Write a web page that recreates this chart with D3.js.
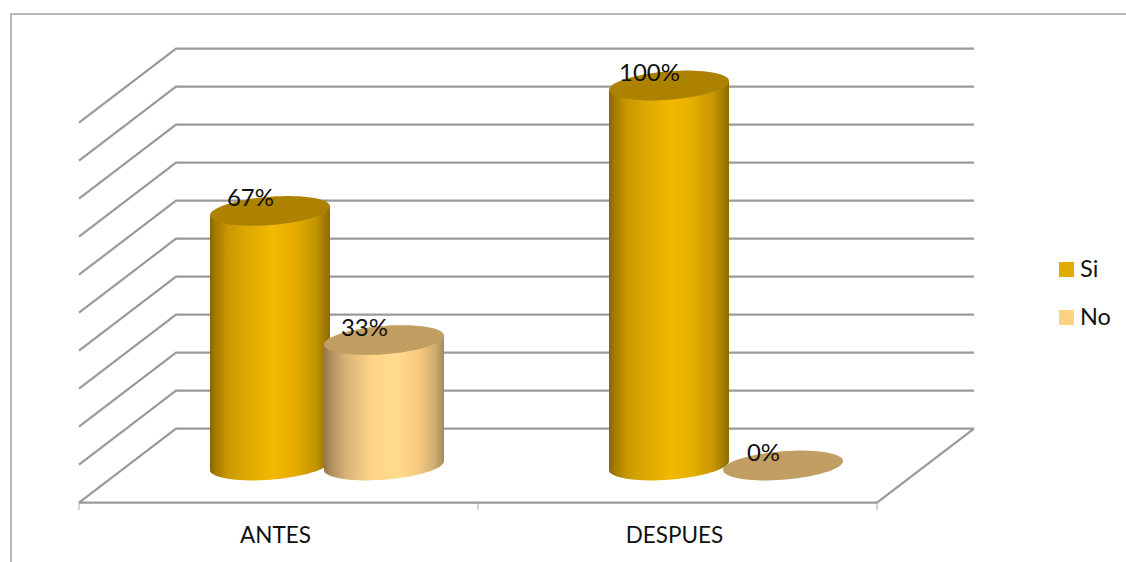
<!DOCTYPE html>
<html><head><meta charset="utf-8">
<script src="https://cdn.jsdelivr.net/npm/d3@7"></script>
<style>html,body{margin:0;padding:0;background:#fff}svg{display:block}text{font-family:Lato,"Open Sans",sans-serif;fill:#111}</style>
</head><body><svg id="c" width="1126" height="562"></svg>
<script>
const categories = ["ANTES", "DESPUES"];
const seriesNames = ["Si", "No"];
const siValues = [0.67, 1.00];
const noValues = [0.33, 0.00];
const valueLabels = { Si: ["67%", "100%"], No: ["33%", "0%"] };
const gridTicks = [0, 0.1, 0.2, 0.3, 0.4, 0.5, 0.6, 0.7, 0.8, 0.9, 1];

const svg = d3.select("#c");
const W = 1126, H = 562;
const gray = "#9a9a9a";
const depthX = 97, depthY = -74;
const x0 = d3.scaleBand().domain(categories).range([79, 877]);
const x1 = d3.scaleBand().domain(seriesNames).range([134, 362]);
const yBack = d3.scaleLinear().domain([0, 1]).range([428.7, 48.7]);
const yFront = d3.scaleLinear().domain([0, 1]).range([502.7, 122.7]);
const yBar = d3.scaleLinear().domain([0, 1]).range([465.5, 85.5]);
const color = d3.scaleOrdinal().domain(seriesNames).range(["#e3aa00", "#ffd183"]);
const topColor = d3.scaleOrdinal().domain(seriesNames).range(["#ad8200", "#c19e62"]);
const gradStops = {
  Si: [[0,"#8a6500"],[.04,"#a27800"],[.15,"#c99900"],[.35,"#e2ad00"],[.52,"#f3b800"],[.7,"#e6ae00"],[.88,"#c29400"],[1,"#8f6b00"]],
  No: [[0,"#937649"],[.05,"#ab8c5a"],[.18,"#d8b276"],[.4,"#ffd488"],[.62,"#ffdb8e"],[.8,"#f5c87e"],[.92,"#cfae72"],[1,"#a58a5a"]]
};

// frame
svg.append("path").attr("d", `M11,${H}V14H${W}`).attr("fill","none").attr("stroke","#a3a3a3").attr("stroke-width",1.5);

// defs
const defs = svg.append("defs");
seriesNames.forEach(s => {
  const g = defs.append("linearGradient").attr("id","g"+s).attr("x1","0").attr("x2","1").attr("y1","0").attr("y2","0");
  gradStops[s].forEach(([o,c]) => g.append("stop").attr("offset",o).attr("stop-color",c));
});

// grid walls
const wall = svg.append("g").attr("fill","none").attr("stroke",gray).attr("stroke-width",2.2);
wall.selectAll("path.g").data(gridTicks).join("path").attr("class","g")
  .attr("d", d => {
    const l = d3.line();
    return l([[x0.range()[0], yFront(d)], [x0.range()[0]+depthX, yBack(d)], [x0.range()[1]+depthX, yBack(d)]]);
  });
// floor front + right
wall.append("path").attr("d", d3.line()([[x0.range()[0], yFront(0)],[x0.range()[1], yFront(0)],[x0.range()[1]+depthX, yBack(0)]]));
// ticks
svg.append("g").attr("stroke","#a8a8a8").attr("stroke-width",1)
  .selectAll("line").data([x0.range()[0], x0.range()[0]+x0.bandwidth(), x0.range()[1]]).join("line")
  .attr("x1",d=>d).attr("x2",d=>d).attr("y1",503).attr("y2",510);

// cylinders
const rx = 60, ry = 14.2, shear = 4.5;
const pt = (cx, cy, t) => [cx + rx*Math.cos(t), cy + ry*Math.sin(t) - shear*Math.cos(t)];
const line = d3.line();
function ellipsePath(cx, cy){ return line(d3.range(0,73).map(i=>pt(cx,cy,i/72*2*Math.PI)))+"Z"; }
function bodyPath(cx, yTop, yBot){
  const low = d3.range(0,37).map(i=>pt(cx,yBot,i/36*Math.PI));
  return line([pt(cx,yTop,0), ...low, pt(cx,yTop,Math.PI)])+"Z";
}
const rows = [];
categories.forEach((c,i)=>{
  rows.push({c, s:"Si", v:siValues[i], label:valueLabels.Si[i]});
  rows.push({c, s:"No", v:noValues[i], label:valueLabels.No[i]});
});
const bars = svg.append("g");
rows.forEach(d=>{
  const cx = x0(d.c)+x1(d.s)+x1.bandwidth()/2;
  if(d.v>0) bars.append("path").attr("d",bodyPath(cx,yBar(d.v),yBar(0))).attr("fill",`url(#g${d.s})`);
  bars.append("path").attr("d",ellipsePath(cx,yBar(d.v))).attr("fill",topColor(d.s));
});
// data labels
svg.append("g").selectAll("text").data(rows).join("text")
  .attr("x",d=>x0(d.c)+x1(d.s)+x1.bandwidth()/2-19.5)
  .attr("y",d=>yBar(d.v)-4.5)
  .attr("text-anchor","middle").attr("font-size",24).text(d=>d.label);
// category labels
svg.append("g").selectAll("text").data(categories).join("text")
  .attr("x",d=>x0(d)+x0.bandwidth()/2-3).attr("y",543)
  .attr("text-anchor","middle").attr("font-size",22.5).text(d=>d);
// legend
const legY = d3.scalePoint().domain(seriesNames).range([262,310]);
const leg = svg.append("g").selectAll("g").data(seriesNames).join("g").attr("transform",d=>`translate(1059,${legY(d)})`);
leg.append("rect").attr("width",15).attr("height",15).attr("fill",d=>color(d));
leg.append("text").attr("x",21).attr("y",15).attr("font-size",23.5).text(d=>d);
</script></body></html>
